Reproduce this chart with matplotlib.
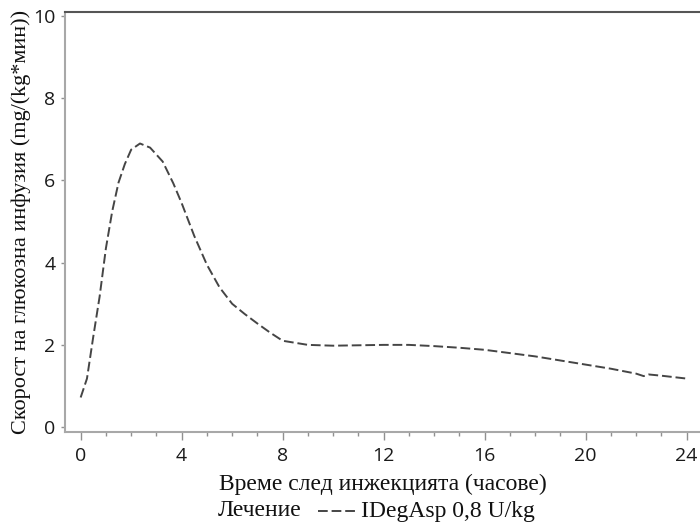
import matplotlib
matplotlib.use("Agg")
import matplotlib.pyplot as plt
from matplotlib.lines import Line2D
from matplotlib.ticker import MultipleLocator

hours = [0, 0.25, 0.5, 0.75, 1.0, 1.25, 1.5, 1.75, 2.0, 2.35, 2.75, 3.25, 3.67,
         4.0, 4.5, 5.0, 5.5, 6.0, 6.5, 7.0, 7.5, 8.0, 9.0, 10, 11, 12, 13, 14,
         15, 16, 17, 18, 19, 20, 21, 22, 22.3, 22.5, 23, 24]
gir = [0.72, 1.18, 2.2, 3.17, 4.35, 5.25, 5.95, 6.4, 6.75, 6.9, 6.8, 6.46, 5.93,
       5.45, 4.65, 3.95, 3.4, 3.0, 2.75, 2.52, 2.3, 2.1, 2.0, 1.98, 1.99, 2.0,
       2.0, 1.97, 1.93, 1.88, 1.80, 1.72, 1.62, 1.52, 1.42, 1.30, 1.24, 1.28,
       1.25, 1.18]
xticks = [0, 4, 8, 12, 16, 20, 24]
yticks = [0, 2, 4, 6, 8, 10]
series_label = "IDegAsp 0,8 U/kg"
legend_title = "Лечение"
xlabel = "Време след инжекцията (часове)"
ylabel = "Скорост на глюкозна инфузия (mg/(kg*мин))"

fig = plt.figure(figsize=(7.0, 5.24), dpi=100)
ax = fig.add_axes([65/700, 1-432/524, 1-65/700, (432-12)/524])

line_color = "#454545"
ax.plot(hours, gir, color=line_color, lw=1.4, linestyle=(0, (5, 2)))

ax.set_xlim(-0.62, 24.53)
ax.set_ylim(-0.12, 10.1)
ax.set_xticks(xticks)
ax.set_yticks(yticks)
ax.xaxis.set_minor_locator(MultipleLocator(1))

for s in ["left", "bottom"]:
    ax.spines[s].set_color("#a8a8a8")
    ax.spines[s].set_linewidth(1.5)
ax.spines["top"].set_color("#555555")
ax.spines["top"].set_linewidth(1.5)
ax.spines["right"].set_visible(False)

ax.tick_params(axis="both", which="major", colors="#909090", labelcolor="#1a1a1a",
               labelsize=14, width=1, length=5.5, pad=3)
ax.tick_params(axis="x", which="minor", colors="#909090", width=1, length=3)
ax.tick_params(axis="x", which="major", pad=5)
ax.tick_params(axis="y", which="major", length=3, pad=4)
for lab in ax.get_xticklabels() + ax.get_yticklabels():
    lab.set_family("Open Sans")

ax.set_xlabel(xlabel, family="Liberation Serif", fontsize=17, color="#111111", labelpad=7)
ax.set_ylabel(ylabel, family="Liberation Serif", fontsize=16, color="#111111")
ax.yaxis.set_label_coords(-0.053, 0.5)

# legend row
ly = 1 - 511/524
fig.text(218/700, ly, legend_title, family="Liberation Serif", fontsize=17,
         color="#111111", ha="left", va="center")
fig.add_artist(Line2D([318/700, 357/700], [ly, ly], transform=fig.transFigure,
                      color=line_color, lw=1.4, linestyle=(0, (5, 2))))
fig.text(361/700, ly, series_label, family="Liberation Serif", fontsize=17,
         color="#111111", ha="left", va="center")

fig.savefig("out.png", dpi=100)
